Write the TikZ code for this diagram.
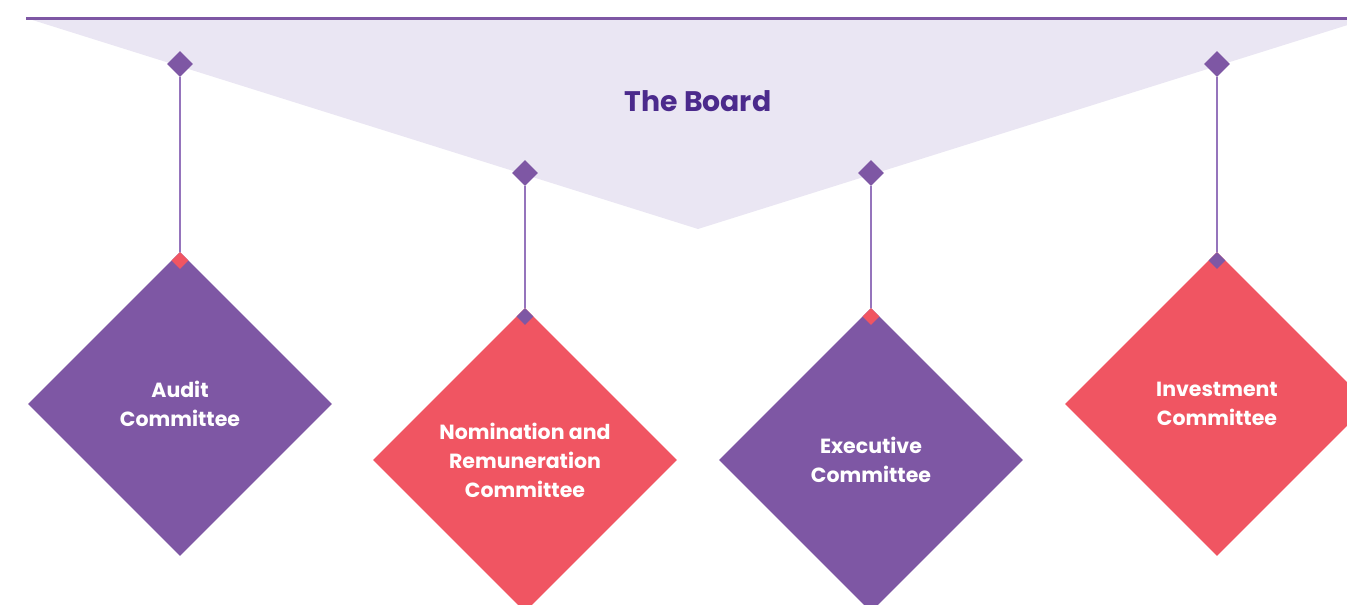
\documentclass[tikz,border=0pt]{standalone}
\usepackage{fontspec}
\setmainfont{Poppins}
\usetikzlibrary{shapes.geometric}
\definecolor{cpurple}{HTML}{7E57A4}
\definecolor{cred}{HTML}{F05562}
\definecolor{clav}{HTML}{EAE6F3}
\definecolor{cline}{HTML}{9574BC}
\definecolor{ctitle}{HTML}{4B2A8C}
\tikzset{
  bigdia/.style={diamond, aspect=1, minimum width=304pt, minimum height=304pt, inner sep=0pt,
    text=white, font=\fontsize{20.5}{29}\selectfont\bfseries, align=center},
  topdia/.style={diamond, aspect=1, minimum width=26pt, minimum height=26pt, inner sep=0pt, fill=cpurple},
  joindia/.style={diamond, aspect=1, minimum width=17pt, minimum height=17pt, inner sep=0pt},
  hang/.style={draw=cline, line width=2pt},
}
\begin{document}
\begin{tikzpicture}[x=1pt,y=-1pt]
\useasboundingbox (0,0) rectangle (1347,605);
\clip (0,0) rectangle (1347,605);
% board banner
\coordinate (bl) at (26,18);
\coordinate (br) at (1370,18);
\coordinate (ba) at (698,229);
\fill[clav] (bl) -- (br) -- (ba) -- cycle;
\draw[cpurple, line width=3pt] (bl) -- (1347,18);
\node[text=ctitle, font=\fontsize{28.3}{32}\selectfont\bfseries] (board) at (698,101) {The Board};
% committees
\node[bigdia, fill=cpurple] (audit) at (180,404) {Audit\\Committee};
\node[bigdia, fill=cred] (nom) at (525,460) {Nomination and\\Remuneration\\Committee};
\node[bigdia, fill=cpurple] (exec) at (871,460) {Executive\\Committee};
\node[bigdia, fill=cred] (inv) at (1217,404) {Investment\\Committee};
% top diamonds
\node[topdia] (t1) at (180,64) {};
\node[topdia] (t2) at (525,173) {};
\node[topdia] (t3) at (871,173) {};
\node[topdia] (t4) at (1217,64) {};
% join diamonds
\node[joindia, fill=cred] (j1) at (180,260.5) {};
\node[joindia, fill=cpurple] (j2) at (525,316.5) {};
\node[joindia, fill=cred] (j3) at (871,316.5) {};
\node[joindia, fill=cpurple] (j4) at (1217,260.5) {};
% hangers
\draw[hang] (t1) -- (j1);
\draw[hang] (t2) -- (j2);
\draw[hang] (t3) -- (j3);
\draw[hang] (t4) -- (j4);
\end{tikzpicture}
\end{document}
